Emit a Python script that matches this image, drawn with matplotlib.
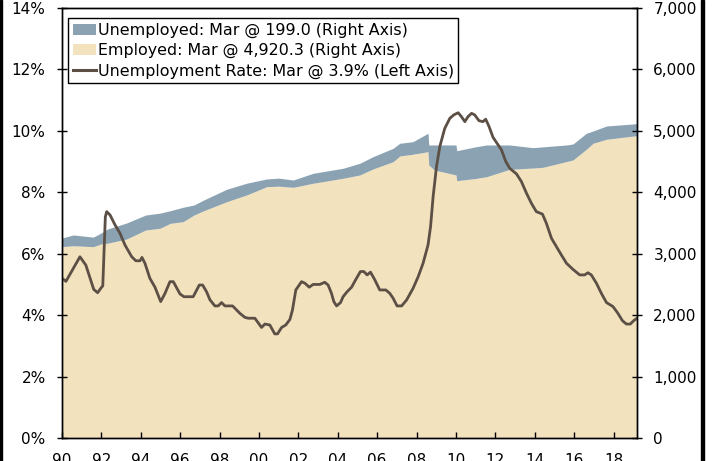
import matplotlib
matplotlib.use("Agg")
import matplotlib.pyplot as plt
from matplotlib.patches import Patch, Rectangle
from matplotlib.lines import Line2D
from matplotlib.ticker import FuncFormatter

# Unemployment rate (%), decimal year
rate_years = [
    1990.00, 1990.20, 1990.91, 1991.21, 1991.61, 1991.81, 1992.01, 1992.07,
    1992.20, 1992.27, 1992.44, 1992.69, 1992.94, 1993.20, 1993.54, 1993.75,
    1993.96, 1994.06, 1994.21, 1994.46, 1994.72, 1995.01, 1995.23, 1995.48,
    1995.65, 1995.99, 1996.19, 1996.66, 1996.97, 1997.14, 1997.34, 1997.51,
    1997.76, 1997.93, 1998.10, 1998.27, 1998.66, 1999.03, 1999.28, 1999.45,
    1999.79, 2000.13, 2000.30, 2000.55, 2000.80, 2000.94, 2001.15, 2001.36,
    2001.57, 2001.70, 2001.87, 2002.16, 2002.33, 2002.55, 2002.75, 2003.09,
    2003.34, 2003.51, 2003.68, 2003.80, 2003.94, 2004.14, 2004.27, 2004.47,
    2004.70, 2004.95, 2005.15, 2005.32, 2005.49, 2005.66, 2005.88, 2006.13,
    2006.44, 2006.64, 2006.81, 2007.01, 2007.24, 2007.49, 2007.82, 2008.08,
    2008.33, 2008.58, 2008.71, 2008.84, 2009.01, 2009.18, 2009.43, 2009.69,
    2009.89, 2010.11, 2010.28, 2010.45, 2010.61, 2010.79, 2010.95, 2011.17,
    2011.37, 2011.51, 2011.68, 2011.88, 2012.14, 2012.31, 2012.53, 2012.73,
    2013.07, 2013.32, 2013.58, 2013.83, 2014.08, 2014.39, 2014.59, 2014.85,
    2015.10, 2015.35, 2015.61, 2015.94, 2016.28, 2016.53, 2016.70, 2016.87,
    2017.13, 2017.38, 2017.64, 2017.97, 2018.22, 2018.45, 2018.65, 2018.85,
    2019.02, 2019.19,
]
rate = [
    5.2, 5.1, 5.9, 5.63, 4.84, 4.73, 4.91, 4.95,
    7.2, 7.37, 7.26, 6.94, 6.67, 6.28, 5.9, 5.77,
    5.77, 5.88, 5.69, 5.2, 4.91, 4.44, 4.71, 5.09,
    5.09, 4.69, 4.6, 4.6, 4.98, 4.98, 4.76, 4.5,
    4.3, 4.3, 4.41, 4.3, 4.3, 4.06, 3.93, 3.9,
    3.9, 3.6, 3.71, 3.68, 3.39, 3.39, 3.6, 3.68,
    3.86, 4.17, 4.82, 5.09, 5.04, 4.91, 5.0, 5.0,
    5.07, 4.98, 4.71, 4.44, 4.3, 4.41, 4.6, 4.76,
    4.91, 5.2, 5.42, 5.42, 5.31, 5.4, 5.15, 4.82,
    4.82, 4.71, 4.55, 4.3, 4.3, 4.49, 4.87, 5.25,
    5.69, 6.28, 6.88, 7.86, 8.83, 9.49, 10.08, 10.41,
    10.52, 10.59, 10.46, 10.3, 10.46, 10.57, 10.52, 10.33,
    10.3, 10.38, 10.14, 9.79, 9.54, 9.38, 9.0, 8.78,
    8.6, 8.35, 7.97, 7.64, 7.37, 7.29, 6.99, 6.5,
    6.23, 5.96, 5.69, 5.49, 5.31, 5.31, 5.38, 5.31,
    5.04, 4.71, 4.41, 4.28, 4.06, 3.82, 3.71, 3.71,
    3.82, 3.9,
]

# Employed / unemployed (thousands), decimal year
area_years = [
    1990.00, 1990.57, 1991.59, 1992.00, 1992.30, 1993.28, 1994.25, 1994.97,
    1995.50, 1996.15, 1996.70, 1997.20, 1998.36, 1999.37, 2000.39, 2001.00,
    2001.74, 2002.75, 2004.27, 2005.12, 2005.79, 2006.81, 2007.15, 2007.82,
    2008.58, 2008.62, 2008.90, 2010.00, 2010.04, 2011.00, 2011.55, 2012.73,
    2013.91, 2014.42, 2015.61, 2015.94, 2016.62, 2016.96, 2017.64, 2018.99,
    2019.19,
]
employed = [
    3115, 3130, 3115, 3160, 3170, 3240, 3386, 3414,
    3495, 3522, 3630, 3700, 3847, 3956, 4091, 4100,
    4081, 4147, 4228, 4282, 4380, 4498, 4591, 4620,
    4661, 4444, 4363, 4282, 4189, 4225, 4254, 4374,
    4395, 4407, 4500, 4526, 4700, 4798, 4863, 4915,
    4920.3,
]
unemployed = [
    140, 175, 155, 180, 230, 260, 244, 246,
    205, 234, 163, 175, 202, 191, 126, 130,
    119, 162, 163, 190, 200, 218, 207, 204,
    300, 326, 407, 488, 488, 515, 516, 396,
    331, 333, 270, 260, 261, 200, 216, 197,
    199.0,
]

tick_years = list(range(1990, 2019, 2))
tick_labels = [f"{y % 100:02d}" for y in tick_years]

BEIGE = "#f2e2be"
BLUE = "#8aa2b2"
LINE = "#5c4f45"
FS = 11

fig = plt.figure(figsize=(7.13, 4.61), dpi=100)
ax = fig.add_axes([62 / 713, 23 / 461, 575 / 713, 430 / 461])
ax2 = ax.twinx()

# areas on right axis
total = [e + u for e, u in zip(employed, unemployed)]
ax2.fill_between(area_years, 0, employed, color=BEIGE, linewidth=0)
ax2.fill_between(area_years, employed, total, color=BLUE, linewidth=0)
ax2.set_ylim(0, 7000)
ax2.set_yticks(range(0, 7001, 1000))
ax2.yaxis.set_major_formatter(FuncFormatter(lambda v, p: f"{int(v):,}"))

# rate line on left axis, drawn above the areas
ax.set_zorder(ax2.get_zorder() + 1)
ax.patch.set_visible(False)
ax.plot(rate_years, rate, color=LINE, linewidth=2.0, solid_joinstyle="round")
ax.set_ylim(0, 14)
ax.set_yticks(range(0, 15, 2))
ax.yaxis.set_major_formatter(FuncFormatter(lambda v, p: f"{int(v)}%"))
ax.set_xlim(1990, 2019.19)
ax.set_xticks(tick_years)
ax.set_xticklabels(tick_labels)

ax.tick_params(axis="y", direction="inout", length=7.5, width=1, pad=8,
               labelsize=FS, colors="black")
ax2.tick_params(axis="y", direction="inout", length=7.5, width=1, pad=8,
                labelsize=FS, colors="black")
ax.tick_params(axis="x", direction="in", length=4.5, width=1, pad=11,
               labelsize=FS)
for a in (ax, ax2):
    for s in a.spines.values():
        s.set_linewidth(1)
        s.set_color("black")

handles = [
    Patch(facecolor=BLUE, edgecolor="none", label="Unemployed: Mar @ 199.0 (Right Axis)"),
    Patch(facecolor=BEIGE, edgecolor="none", label="Employed: Mar @ 4,920.3 (Right Axis)"),
    Line2D([0], [0], color=LINE, linewidth=2.2, label="Unemployment Rate: Mar @ 3.9% (Left Axis)"),
]
leg = ax.legend(handles=handles, loc="upper left", bbox_to_anchor=(0.0104, 0.977),
                borderaxespad=0, fontsize=11.4, frameon=True, fancybox=False,
                edgecolor="black", framealpha=1, handlelength=1.45,
                handletextpad=0.12, labelspacing=0.33, borderpad=0.3)
leg.get_frame().set_linewidth(1)

# cropped black frame edges from the source image
fig.patches.append(Rectangle((0, 0), 2 / 713, 1, transform=fig.transFigure,
                             color="black", zorder=10))
fig.patches.append(Rectangle((701 / 713, 0), 3 / 713, 1, transform=fig.transFigure,
                             color="black", zorder=10))

fig.savefig("out.png", dpi=100)
